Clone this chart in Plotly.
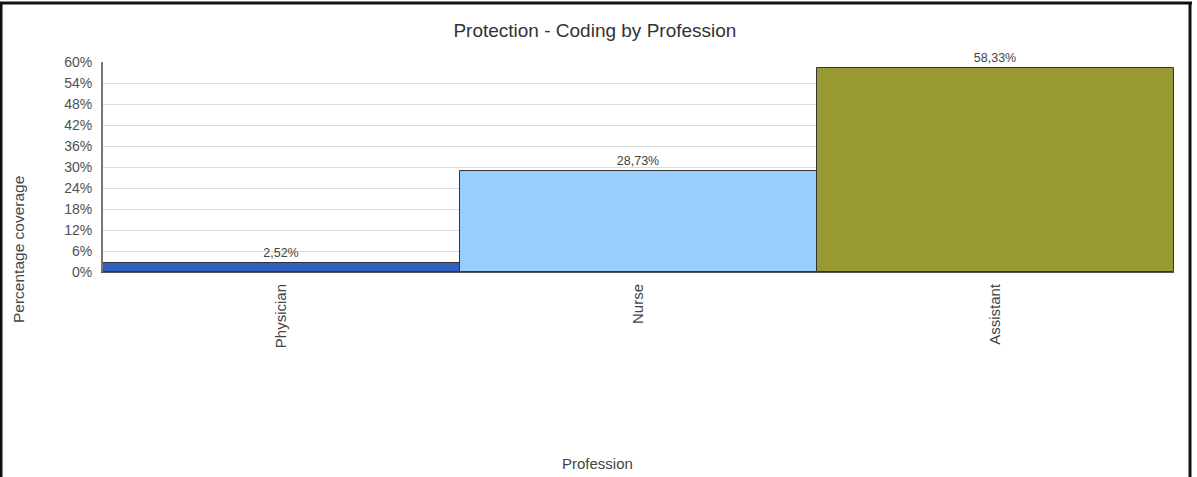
import plotly.graph_objects as go

professions = ["Physician", "Nurse", "Assistant"]
coverage = [2.52, 28.73, 58.33]
bar_colors = ["#2F5FBF", "#99CCFF", "#999933"]
y_ticks = [0, 6, 12, 18, 24, 30, 36, 42, 48, 54, 60]
y_tick_labels = [f"{t}%" for t in y_ticks]
labels = [f"{v:.2f}%".replace(".", ",") for v in coverage]

W, H = 1197, 477
L, R, T, B = 103, 23, 62, 205
pw, ph = W - L - R, H - T - B

def px_x(p):
    return (p - L) / pw

def px_y(p):
    return (H - B - p) / ph

FONT = "Liberation Sans, Arial"

fig = go.Figure(go.Bar(
    x=professions, y=coverage,
    marker=dict(color=bar_colors, line=dict(color="#333333", width=1)),
    text=labels, textposition="outside", cliponaxis=False,
    textfont=dict(size=12.5, color="#444444", family=FONT),
    width=1,
))

fig.update_layout(
    width=W, height=H,
    margin=dict(l=L, r=R, t=T, b=B),
    paper_bgcolor="white", plot_bgcolor="white",
    bargap=0, showlegend=False,
    font=dict(family=FONT, color="#444444", size=12),
    title=dict(text="Protection - Coding by Profession", x=0.497, xref="container",
               xanchor="center", y=1 - 30 / H, yanchor="middle",
               font=dict(size=19, color="#333333", family=FONT)),
)

fig.update_yaxes(
    range=[0, 60], tickvals=y_ticks, ticktext=y_tick_labels,
    showgrid=True, gridcolor="#dddddd", gridwidth=1,
    showline=True, linecolor="#777777", linewidth=2,
    ticks="", ticklabelstandoff=6, zeroline=False,
    tickfont=dict(size=14, color="#505050"),
)
fig.update_xaxes(
    tickangle=-90, showline=True, linecolor="#555555", linewidth=1,
    ticks="", ticklabelstandoff=5, showgrid=False,
    tickfont=dict(size=15, color="#444444"),
    range=[-0.5, 2.5],
)

fig.add_annotation(text="Percentage coverage", textangle=-90,
                   x=px_x(18), y=px_y(250), xref="paper", yref="paper",
                   xanchor="center", yanchor="middle",
                   showarrow=False, font=dict(size=15.5, color="#444444"))
fig.add_annotation(text="Profession",
                   x=px_x(597), y=px_y(463), xref="paper", yref="paper",
                   xanchor="center", yanchor="middle",
                   showarrow=False, font=dict(size=15, color="#444444"))

# outer frame (top, left, right)
frame = dict(color="#111111", width=3)
fig.add_shape(type="line", xref="paper", yref="paper",
              x0=px_x(0), x1=px_x(1192), y0=px_y(3), y1=px_y(3), line=frame)
fig.add_shape(type="line", xref="paper", yref="paper",
              x0=px_x(1), x1=px_x(1), y0=px_y(3), y1=px_y(477), line=frame)
fig.add_shape(type="line", xref="paper", yref="paper",
              x0=px_x(1190), x1=px_x(1190), y0=px_y(3), y1=px_y(477), line=frame)

fig.write_html("out.html")
